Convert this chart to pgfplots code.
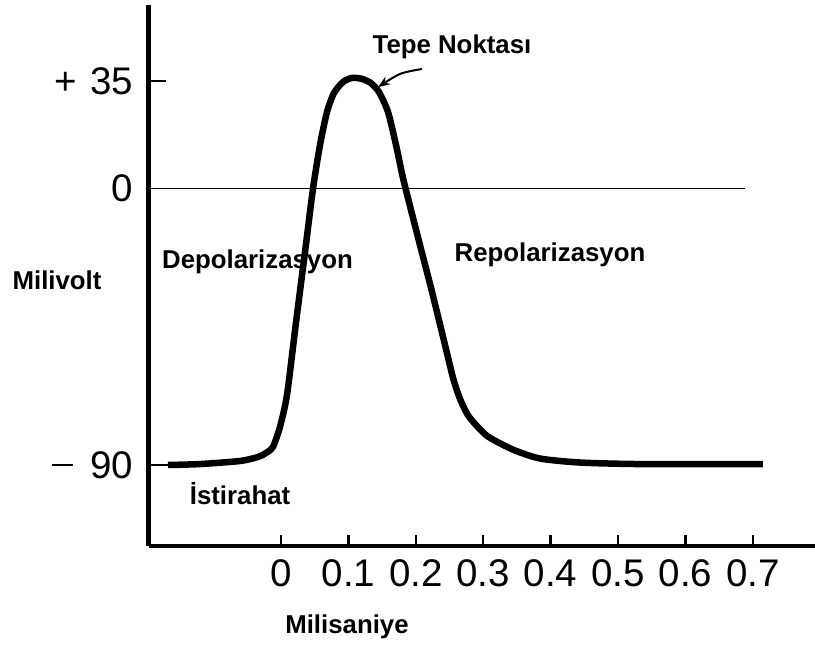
\documentclass[border=0pt]{standalone}
\usepackage{fontspec}
\setmainfont{Liberation Sans}
\usepackage{pgfplots}
\pgfplotsset{compat=1.18}
\usetikzlibrary{arrows.meta}
\newcommand{\lbl}{\fontsize{25.8bp}{30bp}\selectfont\bfseries}
\begin{document}
\begin{tikzpicture}
\path[use as bounding box] (0bp,0bp) rectangle (815bp,647bp);
\begin{axis}[
  at={(148.5bp,101bp)}, anchor=south west,
  width=666.5bp, height=541bp, scale only axis,
  xmin=-0.1966, xmax=0.7923, ymin=-116.37, ymax=59.74,
  axis x line=bottom, axis y line=left,
  axis line style={-},
  x axis line style={line width=4.5bp},
  y axis line style={line width=5.5bp},
  clip=false,
  xtick={0,0.1,0.2,0.3,0.4,0.5,0.6,0.7},
  xticklabels={0,0.1,0.2,0.3,0.4,0.5,0.6,0.7},
  ytick={-90,0,35},
  yticklabels={{\rule[11.9bp]{21bp}{2.6bp}\hspace{0.45em}90},0,{+\hspace{0.35em}35}},
  tick align=inside, major tick length=11bp,
  x tick style={line width=2.5bp, black},
  y tick style={draw=none},
  tick label style={font=\fontsize{38.5bp}{44bp}\selectfont},
  xticklabel style={yshift=-10bp},
  yticklabel style={xshift=-12bp},
]
% y ticks
\addplot[line width=2.5bp] coordinates {(-0.1966,35) (-0.1707,35)};
\addplot[line width=2.5bp] coordinates {(-0.1966,-90) (-0.1650,-90)};
% zero line
\addplot[line width=1.8bp] coordinates {(-0.1966,0) (0.6884,0)};
% action potential
\addplot[line width=6.5bp, smooth, tension=0.4] coordinates {
(-0.1677,-90.0) (-0.1202,-89.7) (-0.0608,-88.7) (-0.0341,-87.4) (-0.0223,-86.1)
(-0.0119,-84.1) (-0.0015,-77.6) (0.0089,-67.2) (0.0223,-43.5) (0.0356,-20.7)
(0.0475,0) (0.0579,14.2) (0.0682,24.9) (0.0786,31.1) (0.0920,34.7)
(0.1053,36.0) (0.1202,35.7) (0.1335,34.3) (0.1454,31.4) (0.1588,24.9)
(0.1706,14.2) (0.1810,3.4) (0.1929,-7.0) (0.2062,-18.4) (0.2240,-33.6)
(0.2433,-50.9) (0.2552,-61.6) (0.2656,-68.5) (0.2790,-74.3) (0.3056,-80.5)
(0.3442,-85.0) (0.3843,-87.9) (0.4436,-89.2) (0.5326,-89.7) (0.7151,-89.7)};
% arrow
\addplot[-{Stealth[length=12bp,width=9bp]}, line width=2bp, smooth] coordinates {
(0.2092,38.9) (0.1766,37.3) (0.1439,33.0)};
\node[anchor=base, font=\lbl] at (axis cs:0.2537,44.1) {Tepe Noktası};
\node[anchor=base, font=\lbl] at (axis cs:-0.0349,-26.2) {Depolarizasyon};
\node[anchor=base, font=\lbl] at (axis cs:0.3991,-23.9) {Repolarizasyon};
\node[anchor=base, font=\lbl] at (axis cs:-0.0608,-103.0) {İstirahat};
\node[anchor=base, font=\lbl] at (axis cs:-0.3323,-33.0) {Milivolt};
\node[anchor=base, font=\lbl] at (axis cs:0.0979,-145.0) {Milisaniye};
\end{axis}
\end{tikzpicture}
\end{document}
